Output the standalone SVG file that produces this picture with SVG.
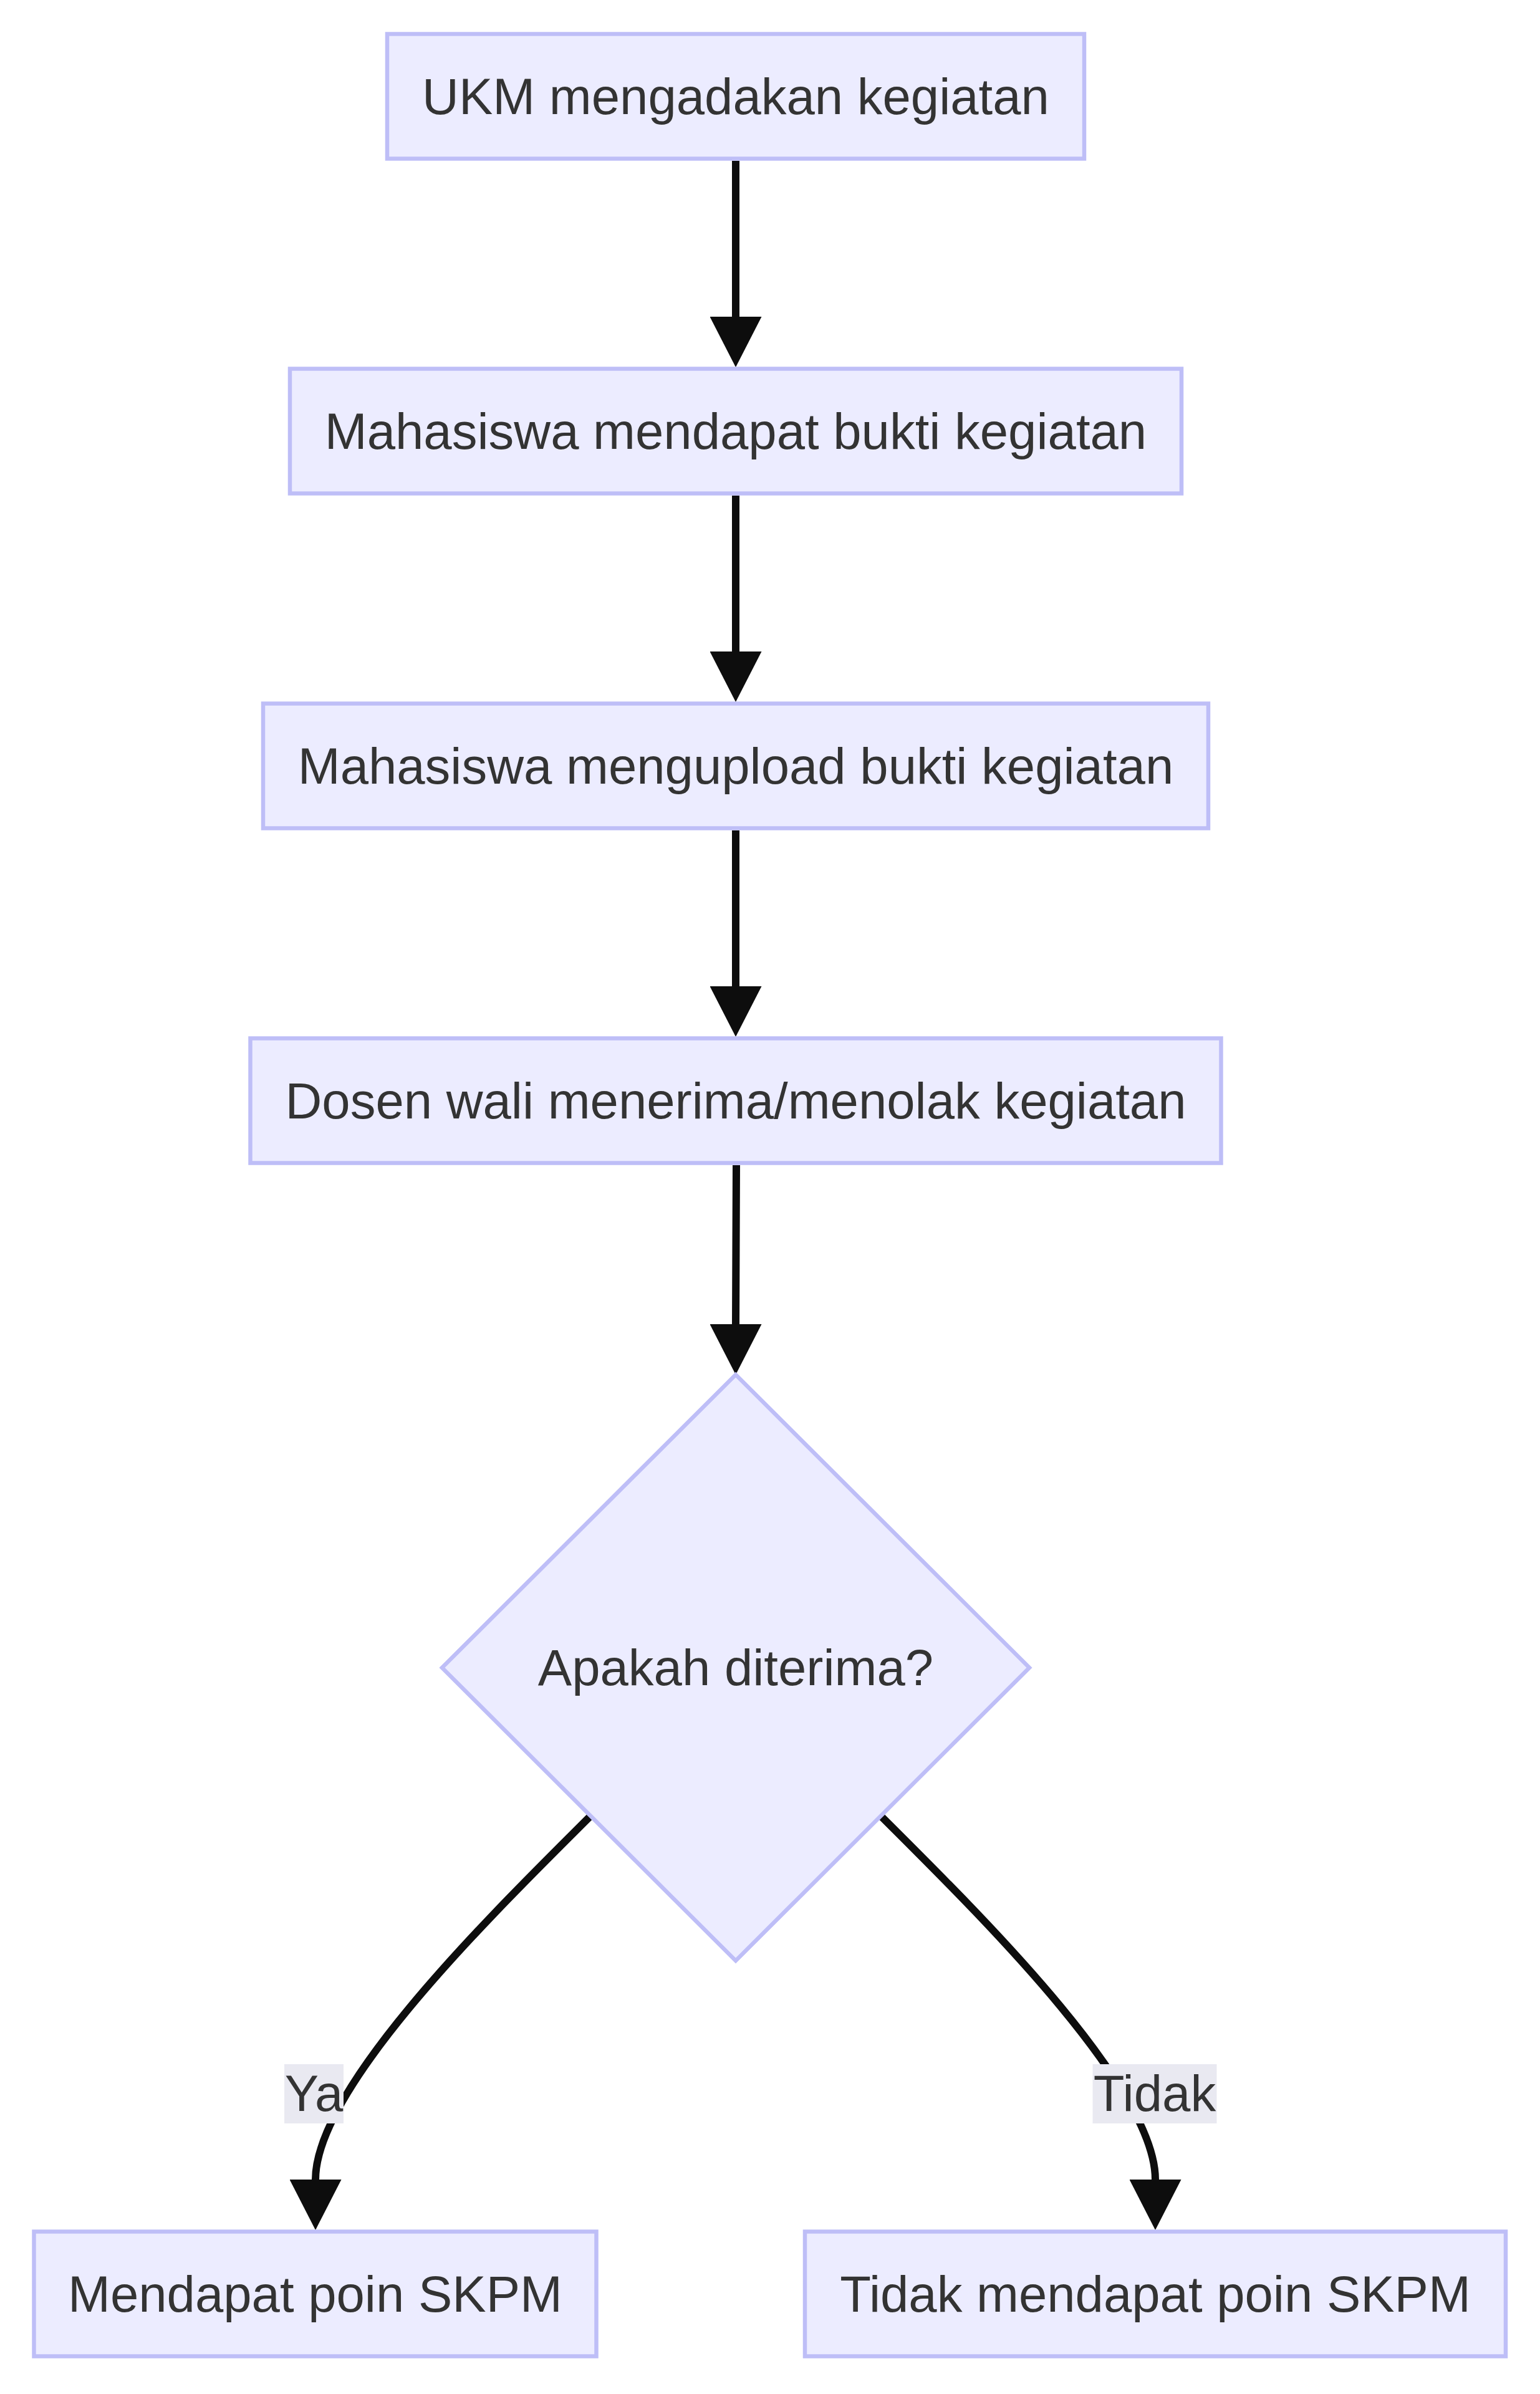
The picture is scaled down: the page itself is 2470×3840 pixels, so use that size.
<svg xmlns="http://www.w3.org/2000/svg" width="2470" height="3840" viewBox="0 0 2470 3840">
  <style>
    .node rect, .node polygon { fill: #ececff; stroke: #bebef7; stroke-width: 6.5; }
    .node text, .elabel text { font-family: "Liberation Sans", Arial, sans-serif; font-size: 81.5px; fill: #333333; text-anchor: middle; }
    .edge { fill: none; stroke: #0d0d0d; stroke-width: 12; marker-end: url(#arrow); }
    .elabel rect { fill: #e9e9f1; }
  </style>
  <defs>
    <marker id="arrow" viewBox="0 0 10 10" refX="0" refY="5" markerUnits="userSpaceOnUse" markerWidth="81" markerHeight="83" preserveAspectRatio="none" orient="auto">
      <path d="M0,0 L10,5 L0,10 z" fill="#0d0d0d"/>
    </marker>
  </defs>
  <rect x="0" y="0" width="2470" height="3840" fill="#ffffff"/>

  <g id="connectors">
    <path class="edge" d="M1180,258 L1180,508"/>
    <path class="edge" d="M1180,795 L1180,1045"/>
    <path class="edge" d="M1180,1332 L1180,1582"/>
    <path class="edge" d="M1181,1869 C1181,2000 1180,2000 1180,2124"/>
    <path class="edge" d="M955,2905 L945,2915 C795,3065 506,3346 506,3496"/>
    <path class="edge" d="M1405,2905 L1415,2915 C1565,3065 1853,3346 1853,3496"/>
  </g>

  <g id="edge-labels">
    <g class="elabel" id="label-ya">
      <rect x="456" y="3311" width="95" height="95"/>
      <text x="503.5" y="3386">Ya</text>
    </g>
    <g class="elabel" id="label-tidak">
      <rect x="1752.5" y="3311" width="199" height="95"/>
      <text x="1852" y="3386">Tidak</text>
    </g>
  </g>

  <g class="node" id="node-ukm">
    <rect x="621" y="54.5" width="1118" height="200"/>
    <text x="1180" y="182.5">UKM mengadakan kegiatan</text>
  </g>
  <g class="node" id="node-bukti">
    <rect x="465" y="591.5" width="1430" height="200"/>
    <text x="1180" y="719.5">Mahasiswa mendapat bukti kegiatan</text>
  </g>
  <g class="node" id="node-upload">
    <rect x="422" y="1128.5" width="1516" height="200"/>
    <text x="1180" y="1256.5">Mahasiswa mengupload bukti kegiatan</text>
  </g>
  <g class="node" id="node-dosen">
    <rect x="401.5" y="1665.5" width="1557" height="200"/>
    <text x="1180" y="1793.5">Dosen wali menerima/menolak kegiatan</text>
  </g>
  <g class="node" id="node-decision">
    <polygon points="1180,2205 1651,2675 1180,3145 709,2675"/>
    <text x="1180" y="2703">Apakah diterima?</text>
  </g>
  <g class="node" id="node-ya">
    <rect x="54.5" y="3579.5" width="902" height="200"/>
    <text x="505.5" y="3707.5">Mendapat poin SKPM</text>
  </g>
  <g class="node" id="node-tidak">
    <rect x="1291" y="3579.5" width="1124" height="200"/>
    <text x="1853" y="3707.5">Tidak mendapat poin SKPM</text>
  </g>
</svg>
